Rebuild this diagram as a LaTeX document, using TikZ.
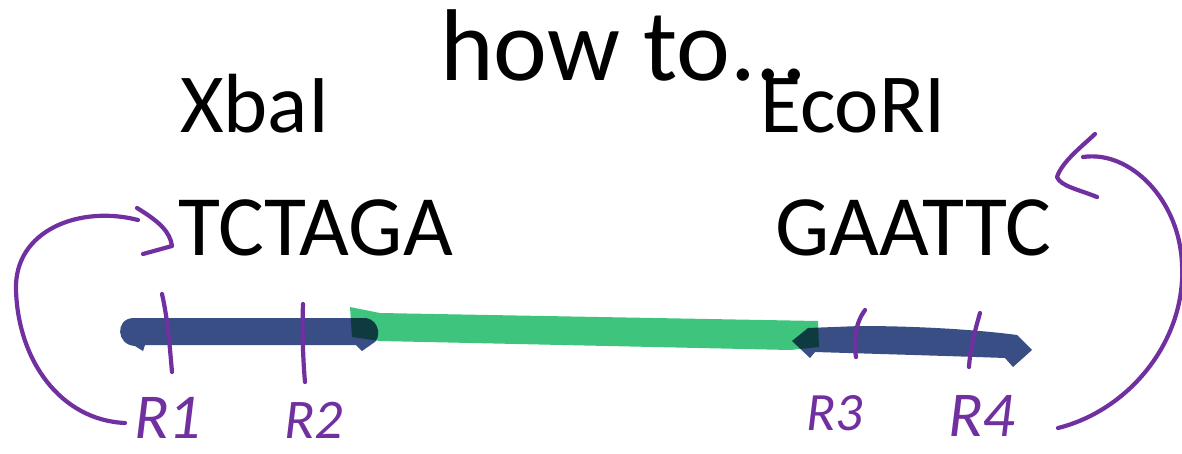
\documentclass[tikz,border=0pt]{standalone}
\usepackage{fontspec}
\setmainfont{Carlito}
\begin{document}
\begin{tikzpicture}[x=1pt,y=-1pt,
  txt/.style={anchor=base west,inner sep=0pt,text=black},
  ink/.style={draw=inkpurple,line width=4.2pt,line cap=round,line join=round},
  lbl/.style={anchor=base west,inner sep=0pt,text=inkpurple,font=\fontsize{64}{64}\selectfont\itshape},
  blueink/.style={fill=inkblue},
  greenink/.style={fill=inkgreen}]
\definecolor{inkpurple}{RGB}{112,48,160}
\definecolor{inkblue}{RGB}{56,78,132}
\definecolor{inkgreen}{RGB}{62,196,124}
\useasboundingbox[fill=white] (0,0) rectangle (1182,453);

% texts
\node[txt,font=\fontsize{102}{102}\selectfont] (title) at (440,80) {how to...};
\node[txt,font=\fontsize{84}{84}\selectfont] (xba) at (180,132) {XbaI};
\node[txt,font=\fontsize{84}{84}\selectfont] (eco) at (760,132) {EcoRI};
\node[txt,font=\fontsize{86}{86}\selectfont] (tct) at (178,255) {TCTAGA};
\node[txt,font=\fontsize{86}{86}\selectfont] (gaa) at (775,255) {GAATTC};

% DNA bars
\begin{scope}[blend group=multiply]
\fill[greenink] (350,307) -- (380,313) -- (818,321) -- (819,347) -- (790,350) -- (380,341) -- (352,337) -- cycle;
\fill[blueink] (133,318) -- (366,318) .. controls (380,320) and (382,340) .. (372,344) -- (362,351) -- (356,345) -- (145,345) -- (143,351) -- (135,346) .. controls (116,345) and (115,319) .. (133,318) -- cycle;
\fill[blueink] (792,341) -- (808,328) -- (860,326) .. controls (920,326) and (980,330) .. (1017,335) -- (1032,350) -- (1013,367) -- (1005,358) .. controls (950,356) and (880,354) .. (815,352) -- (810,358) -- cycle;
\end{scope}

% cut marks
\coordinate (t1a) at (162,294); \coordinate (t1b) at (172,372);
\coordinate (t2a) at (303,304); \coordinate (t2b) at (305,382);
\coordinate (t3a) at (865,310); \coordinate (t3b) at (856,357);
\coordinate (t4a) at (980,313); \coordinate (t4b) at (969,367);
\draw[ink] (t1a) .. controls (168,320) and (170,350) .. (t1b);
\draw[ink] (t2a) .. controls (302,330) and (303,360) .. (t2b);
\draw[ink] (t3a) .. controls (856,322) and (853,340) .. (t3b);
\draw[ink] (t4a) .. controls (975,330) and (970,350) .. (t4b);

% labels
\node[lbl] (r1) at (134,438) {R1};
\node[lbl,font=\fontsize{56}{56}\selectfont\itshape] (r2) at (284,438) {R2};
\node[lbl,font=\fontsize{54}{54}\selectfont\itshape] (r3) at (806,430) {R3};
\node[lbl] (r4) at (948,436) {R4};

% loop arrows
\coordinate (l0) at (125,423);
\coordinate (l1) at (138,220);
\draw[ink] (l0) .. controls (60,420) and (18,360) .. (16,290) .. controls (14,230) and (80,205) .. (l1);
\draw[ink] (137,208) .. controls (160,222) and (170,232) .. (172,246) -- (143,254);
\coordinate (q0) at (1058,428);
\coordinate (q1) at (1083,157);
\draw[ink] (q0) .. controls (1130,410) and (1186,340) .. (1182,265) .. controls (1180,200) and (1130,150) .. (q1);
\draw[ink] (1095,134) .. controls (1080,148) and (1062,162) .. (1057,177) .. controls (1060,186) and (1080,190) .. (1097,197);
\end{tikzpicture}
\end{document}
